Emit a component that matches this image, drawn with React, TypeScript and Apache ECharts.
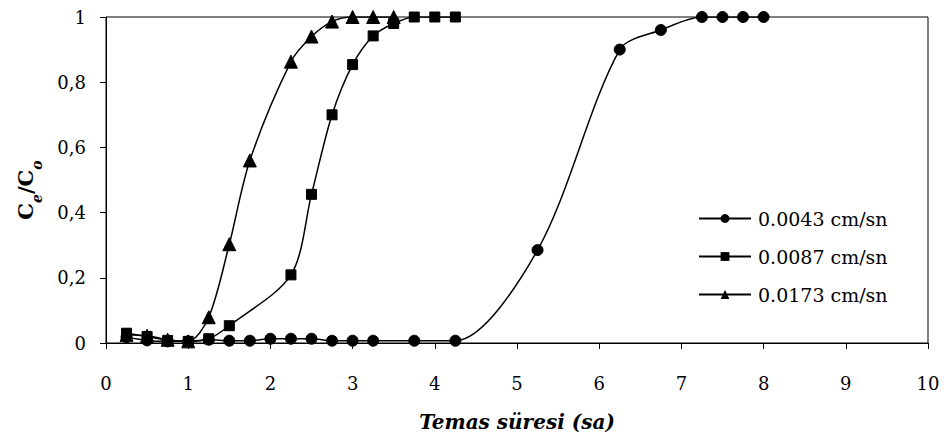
import React, { useEffect, useRef } from "react";
import * as echarts from "echarts";

const seriesNames = ["0.0043 cm/sn", "0.0087 cm/sn", "0.0173 cm/sn"];

const circleData: [number, number][] = [
  [0.25, 0.018], [0.5, 0.008], [0.75, 0.005], [1.0, 0.005], [1.25, 0.01],
  [1.5, 0.007], [1.75, 0.007], [2.0, 0.013], [2.25, 0.013], [2.5, 0.013],
  [2.75, 0.007], [3.0, 0.007], [3.25, 0.007], [3.75, 0.007], [4.25, 0.007],
  [5.25, 0.285], [6.25, 0.9], [6.75, 0.96], [7.25, 1.0], [7.5, 1.0],
  [7.75, 1.0], [8.0, 1.0],
];

const squareData: [number, number][] = [
  [0.25, 0.03], [0.5, 0.02], [0.75, 0.008], [1.0, 0.005], [1.25, 0.013],
  [1.5, 0.053], [2.25, 0.209], [2.5, 0.456], [2.75, 0.7], [3.0, 0.854],
  [3.25, 0.942], [3.5, 0.98], [3.75, 1.0], [4.0, 1.0], [4.25, 1.0],
];

const triangleData: [number, number][] = [
  [0.25, 0.025], [0.5, 0.022], [0.75, 0.01], [1.0, 0.005], [1.25, 0.079],
  [1.5, 0.303], [1.75, 0.56], [2.25, 0.863], [2.5, 0.94], [2.75, 0.986],
  [3.0, 1.0], [3.25, 1.0], [3.5, 1.0],
];

const FONT = "DejaVu Serif";

export default function App() {
  const ref = useRef<HTMLDivElement>(null);
  useEffect(() => {
    if (!ref.current) return;
    const chart = echarts.init(ref.current, undefined, { renderer: "svg" });
    const lineStyle = { color: "#000", width: 1.5 };
    const mk = (name: string, data: [number, number][], symbol: string, size: number) => ({
      name,
      type: "line",
      data,
      smooth: 0.3,
      symbol,
      symbolSize: size,
      lineStyle,
      itemStyle: { color: "#000", borderColor: "#000" },
    });
    chart.setOption({
      animation: false,
      backgroundColor: "#fff",
      grid: {
        left: 106,
        right: 16,
        top: 17,
        bottom: 104,
        show: true,
        borderColor: "#000",
        borderWidth: 1,
      },
      xAxis: {
        type: "value",
        min: 0,
        max: 10,
        interval: 1,
        axisLine: { show: true, lineStyle: { color: "#000", width: 1 } },
        axisTick: { show: true, inside: false, length: 6, lineStyle: { color: "#000" } },
        splitLine: { show: false },
        axisLabel: { color: "#000", fontFamily: FONT, fontSize: 18, margin: 31 },
        name: "Temas süresi (sa)",
        nameLocation: "middle",
        nameGap: 69,
        nameTextStyle: {
          color: "#000",
          fontFamily: FONT,
          fontSize: 20,
          fontWeight: "bold",
          fontStyle: "italic",
        },
      },
      yAxis: {
        type: "value",
        min: 0,
        max: 1,
        interval: 0.2,
        axisLine: { show: true, lineStyle: { color: "#000", width: 1 } },
        axisTick: { show: true, inside: false, length: 6, lineStyle: { color: "#000" } },
        splitLine: { show: false },
        axisLabel: {
          color: "#000",
          fontFamily: FONT,
          fontSize: 18,
          margin: 20,
          formatter: (v: number) => String(Math.round(v * 10) / 10).replace(".", ","),
        },
      },
      legend: {
        orient: "vertical",
        left: 693,
        top: 204,
        itemWidth: 52,
        itemHeight: 11,
        itemGap: 19,
        textStyle: { color: "#000", fontFamily: FONT, fontSize: 19, padding: [0, 0, 0, 2] },
        data: seriesNames,
      },
      graphic: [
        {
          type: "text",
          x: 25,
          y: 190,
          rotation: Math.PI / 2,
          style: {
            text: "{c|C}{s|e}{c|/C}{s|o}",
            align: "center",
            verticalAlign: "middle",
            fill: "#000",
            rich: {
              c: {
                fontFamily: FONT,
                fontSize: 21,
                fontWeight: "bold",
                fill: "#000",
                lineHeight: 26,
                verticalAlign: "middle",
              },
              s: {
                fontFamily: FONT,
                fontSize: 14,
                fontWeight: "bold",
                fontStyle: "italic",
                fill: "#000",
                lineHeight: 26,
                verticalAlign: "bottom",
                padding: [0, 0, -6, 0],
              },
            },
          },
        },
      ],
      series: [
        mk(seriesNames[0], circleData, "circle", 11),
        mk(seriesNames[1], squareData, "rect", 10),
        mk(seriesNames[2], triangleData, "triangle", 13),
      ],
    });
    return () => chart.dispose();
  }, []);
  return (
    <div
      ref={ref}
      style={{ position: "fixed", left: 0, top: 0, width: 944, height: 447 }}
    />
  );
}
